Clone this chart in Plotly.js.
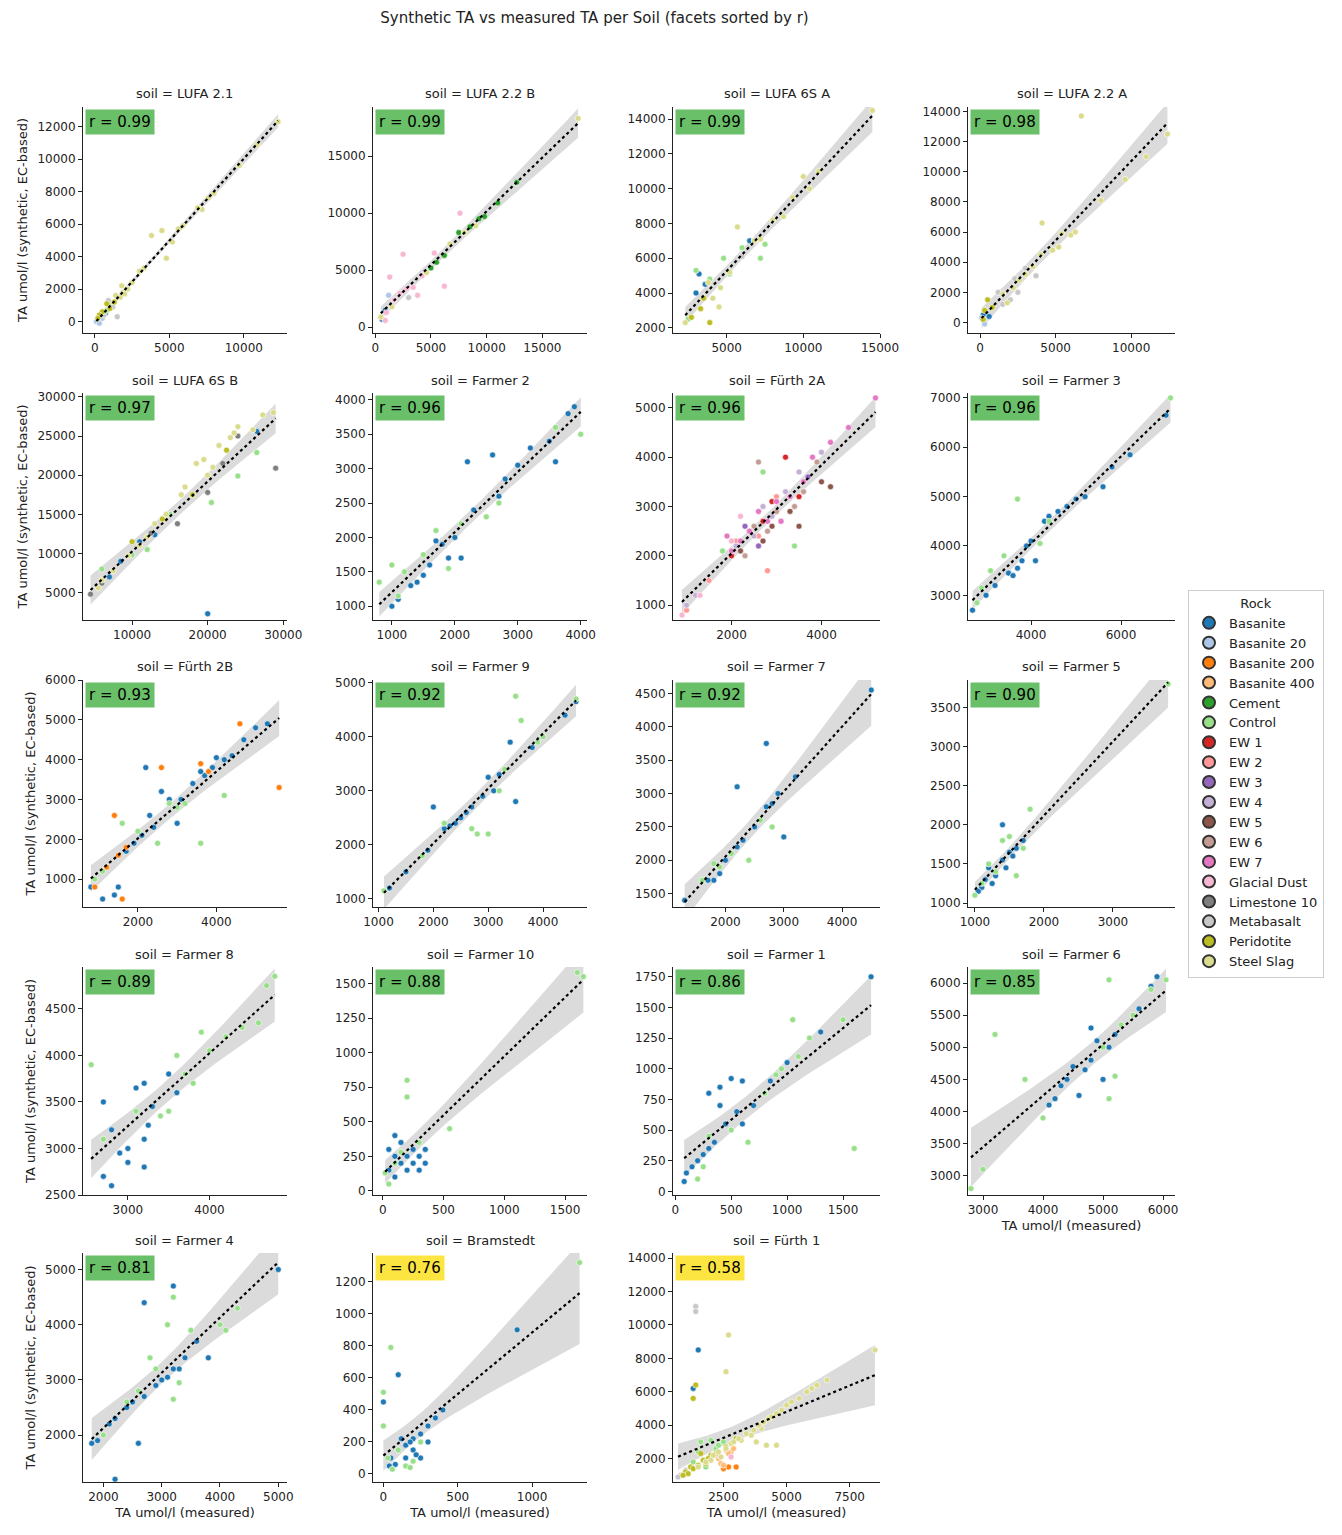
<!DOCTYPE html>
<html>
<head>
<meta charset="utf-8">
<script src="https://cdn.plot.ly/plotly-3.0.1.min.js"></script>
<style>body{margin:0;background:#fff}</style>
</head>
<body>
<div id="chart" style="width:1342px;height:1535px"></div>
<script>
// Rock categories and tab20 colours
const rocks = ['Basanite','Basanite 20','Basanite 200','Basanite 400','Cement','Control','EW 1','EW 2','EW 3','EW 4','EW 5','EW 6','EW 7','Glacial Dust','Limestone 10','Metabasalt','Peridotite','Steel Slag'];
const rockColors = ['#1f77b4','#aec7e8','#ff7f0e','#ffbb78','#2ca02c','#98df8a','#d62728','#ff9896','#9467bd','#c5b0d5','#8c564b','#c49c94','#e377c2','#f7b6d2','#7f7f7f','#c7c7c7','#bcbd22','#dbdb8d'];

const soils = ['LUFA 2.1','LUFA 2.2 B','LUFA 6S A','LUFA 2.2 A','LUFA 6S B','Farmer 2','Fürth 2A','Farmer 3','Fürth 2B','Farmer 9','Farmer 7','Farmer 5','Farmer 8','Farmer 10','Farmer 1','Farmer 6','Farmer 4','Bramstedt','Fürth 1'];
const rValues = [0.99,0.99,0.99,0.98,0.97,0.96,0.96,0.96,0.93,0.92,0.92,0.90,0.89,0.88,0.86,0.85,0.81,0.76,0.58];

// axis ranges and tick steps per facet: [xmin,xmax,xdtick,ymin,ymax,ydtick]
const axisSpecs = [
  [-800,12900,5000,-700,13200,2000],[-200,19000,5000,-500,19300,5000],[1500,15000,5000,1700,14700,2000],[-800,12900,5000,-700,14300,2000],
  [3500,30500,10000,1500,30500,5000],[700,4100,1000,800,4100,500],[700,5300,2000,700,5300,1000],[2600,7200,2000,2500,7100,1000],
  [600,5800,2000,300,6000,1000],[900,4800,1000,850,5050,1000],[1100,4650,1000,1300,4700,500],[900,3900,1000,950,3850,500],
  [2450,4950,1000,2500,4950,500],[-80,1680,500,-30,1620,250],[-20,1830,500,-30,1830,250],[2750,6200,1000,2700,6250,500],
  [1650,5150,1000,1150,5300,1000],[-70,1370,500,-50,1380,200],[500,8700,2500,600,14300,2000]
];

// points: [rockIndex, measured, synthetic]
const ptsLufa21 = [[17,12300,12300],[17,10900,10900],[17,9700,9600],[17,8000,7900],[17,7600,7600],[17,7200,6900],[17,6900,7000],[17,5900,5900],[17,5600,5700],[17,5200,4900],[17,4800,3900],[17,4500,5600],[17,3800,5300],[17,3300,3300],[17,3000,3100],[17,2500,2400],[17,2200,2000],[17,1900,1800],[17,1700,1500],[17,1400,1600],[16,1000,800],[16,800,1100],[16,500,600],[16,300,400],[16,200,200],[15,1200,900],[15,600,400],[15,1500,300],[15,900,1300],[1,100,0],[1,300,-100],[1,500,200],[0,200,100],[0,400,300],[0,700,500],[5,800,700],[5,1100,1000],[16,1300,1200],[17,1800,2200],[17,2000,1700]];
const ptsLufa22B = [[17,18200,18300],[4,12700,12700],[4,11000,10900],[4,9800,9700],[4,9300,9500],[4,8500,8800],[4,7500,8300],[4,6200,6300],[4,5500,5700],[4,5000,5200],[13,7600,10000],[13,6200,3600],[13,5300,6500],[13,3800,2800],[13,2500,6400],[13,1300,4400],[13,1700,2400],[13,2800,3400],[13,3400,3500],[13,4200,4500],[13,1000,1300],[13,900,600],[13,2200,3000],[17,8000,8300],[17,6700,7300],[17,4600,4800],[17,9000,8900],[0,600,700],[0,900,1500],[1,1200,2800],[15,3000,2600],[17,500,900],[17,1500,1800]];
const ptsLufa6SA = [[17,14500,14500],[17,11000,11000],[17,10400,10000],[17,10000,10700],[17,9300,9500],[17,8700,8400],[17,7200,7100],[17,6800,7000],[17,5700,7800],[17,5200,5200],[17,4600,4300],[17,4100,3700],[17,3800,4600],[0,3200,5100],[0,3600,4500],[0,6500,7000],[0,3000,4000],[5,3000,5300],[5,2500,2500],[5,6000,6600],[5,4800,6000],[5,5200,5100],[5,3900,4800],[5,7500,6800],[16,2700,2600],[16,3300,3100],[16,3900,2300],[16,3500,3700],[15,6800,7000],[15,6000,6100],[17,2300,2300],[17,8000,8200],[17,4500,3200],[5,7200,6000]];
const ptsLufa22A = [[17,12400,12500],[17,6700,13700],[17,11000,11000],[17,9600,9500],[17,8000,8100],[17,6300,6000],[17,6000,5800],[17,5400,5900],[17,5200,5000],[17,4800,4800],[17,4100,6600],[17,4000,4500],[17,3500,3700],[17,3000,3200],[17,2600,2800],[17,2200,2300],[15,2300,2900],[15,3700,3100],[15,1200,2000],[15,2000,1500],[15,2500,2000],[15,3000,3600],[15,1500,1200],[16,500,1500],[16,300,800],[16,200,200],[16,800,1000],[1,100,300],[1,300,-100],[0,200,500],[0,600,400],[17,1500,1900],[17,1800,1300]];
const ptsLufa6SB = [[17,28700,28000],[17,27300,27700],[17,26000,25800],[17,24000,26200],[17,23500,25400],[17,23000,24800],[17,21500,23800],[17,20700,21000],[17,20000,20000],[17,19500,22000],[17,18500,21500],[17,17000,18500],[17,16500,17500],[17,14500,15000],[17,13000,13800],[17,12000,12100],[17,11000,11000],[17,9500,9700],[17,7500,7800],[17,6000,6600],[17,5500,5600],[14,29000,20900],[14,24000,25000],[14,22000,21500],[14,20000,17800],[14,16000,13800],[14,12500,12600],[14,6000,6200],[14,4500,4800],[5,26500,22900],[5,24000,19900],[5,20500,16500],[5,15000,15000],[5,10000,9800],[5,6000,8000],[5,12000,10500],[0,26500,25600],[0,20000,2300],[0,13000,12400],[0,11000,11500],[0,8500,9000],[0,7000,7000],[16,10000,11500],[16,18000,17500],[16,22500,23200],[16,14000,14400]];
const ptsFarmer2 = [[0,3900,3900],[0,3800,3800],[0,3600,3100],[0,3500,3400],[0,3200,3300],[0,3000,3050],[0,2800,2850],[0,2600,3200],[0,2200,3100],[0,2300,2400],[0,2100,1700],[0,2000,2000],[0,1800,1900],[0,1700,1950],[0,1600,1600],[0,1500,1450],[0,1400,1350],[0,1300,1300],[0,1100,1100],[0,1000,1000],[0,2700,2600],[0,1900,1700],[5,4000,3500],[5,3600,3600],[5,2700,2500],[5,2500,2300],[5,1700,2100],[5,1500,1750],[5,1200,1500],[5,1000,1600],[5,800,1350],[5,1100,1150],[5,1900,1550],[5,2100,2200]];
const ptsFuerth2A = [[12,5200,5200],[12,4600,4600],[12,4200,4300],[12,3800,4000],[12,3600,3500],[12,3300,3200],[12,3000,3100],[12,2800,2700],[12,2600,2900],[12,2400,2500],[12,2200,2300],[12,2000,2100],[12,1900,2400],[12,3100,2700],[9,4000,4100],[9,3500,3700],[9,3200,3300],[9,2900,2800],[9,2500,2400],[9,2100,2200],[9,1200,1200],[9,1000,1000],[9,2700,3000],[11,3900,3900],[11,3600,3300],[11,2600,3900],[11,3400,3000],[11,2800,2500],[11,2300,2000],[11,2500,2600],[11,3000,2900],[10,4200,3400],[10,4000,3500],[10,3300,2900],[10,2700,2300],[10,2900,2600],[10,3500,2600],[10,2200,2100],[6,3200,4000],[6,3500,3200],[6,2900,3100],[6,2700,2700],[6,2400,2500],[6,2000,2000],[7,2800,1700],[7,2600,2400],[7,1000,900],[7,1500,1500],[7,3000,3200],[7,2100,2300],[8,2300,2600],[8,3100,2700],[8,2600,2200],[8,3700,3600],[13,900,800],[13,1300,1200],[13,2000,2300],[13,2200,2800],[5,3400,2200],[5,1800,2100],[5,2700,3700]];
const ptsFarmer3 = [[0,7000,6650],[0,6200,5850],[0,5800,5600],[0,5600,5200],[0,5200,5000],[0,5000,4950],[0,4800,4800],[0,4600,4700],[0,4400,4600],[0,4300,4500],[0,4100,3700],[0,4000,4100],[0,3900,4000],[0,3800,3700],[0,3700,3550],[0,3500,3450],[0,3600,3400],[0,3200,3200],[0,3000,3000],[0,2700,2700],[5,7100,7000],[5,3700,4950],[5,4400,4500],[5,3400,3800],[5,3100,3500],[5,2900,3150],[5,2800,2850],[5,4200,4050]];
const ptsFuerth2B = [[0,5300,4900],[0,5000,4800],[0,4700,4500],[0,4400,4100],[0,4200,4000],[0,4000,4050],[0,3900,3800],[0,3700,3600],[0,3600,3700],[0,3400,3400],[0,3100,3000],[0,3000,2400],[0,2800,3000],[0,2600,3200],[0,2400,2300],[0,2200,3800],[0,2300,2600],[0,2100,2100],[0,1900,1900],[0,1700,1700],[0,1500,800],[0,1400,600],[0,1200,1300],[0,1100,500],[0,800,800],[2,5600,3300],[2,4600,4900],[2,3800,3700],[2,3600,3900],[2,2600,3800],[2,1500,1600],[2,1400,2600],[2,1200,1300],[2,900,800],[2,1600,500],[2,1700,1800],[5,4200,3100],[5,3600,1900],[5,3200,2900],[5,3000,2800],[5,2800,2900],[5,2500,1900],[5,2000,2200],[5,1600,2400],[5,900,1000],[5,1100,1200]];
const ptsFarmer9 = [[0,4600,4650],[0,4400,4400],[0,3800,3800],[0,3500,2800],[0,3400,3900],[0,3200,3300],[0,3100,3000],[0,3000,3250],[0,2900,2900],[0,2700,2700],[0,2600,2600],[0,2500,2500],[0,2400,2400],[0,2300,2350],[0,2200,2300],[0,2000,2700],[0,1900,1900],[0,1500,1500],[0,1200,1200],[5,4600,4700],[5,3600,4300],[5,3500,4750],[5,3300,3400],[5,3200,3000],[5,3000,2200],[5,2800,2200],[5,2700,2300],[5,2200,2400],[5,1800,1800],[5,1100,1150],[5,3900,3900],[5,4000,4000]];
const ptsFarmer7 = [[0,4500,4550],[0,3200,3250],[0,3000,2350],[0,2900,3000],[0,2800,2850],[0,2700,3750],[0,2700,2800],[0,2500,2500],[0,2300,2300],[0,2200,3100],[0,2200,2200],[0,2000,2000],[0,1900,1800],[0,1800,1700],[0,1700,1700],[0,1300,1400],[0,2100,2100],[5,2800,2500],[5,2400,2000],[5,2100,2100],[5,1900,1900],[5,1800,1950],[5,1600,1700],[5,2600,2600]];
const ptsFarmer5 = [[0,1700,1800],[0,1600,1700],[0,1500,1650],[0,1400,2000],[0,1400,1550],[0,1300,1350],[0,1200,1450],[0,1100,1200],[0,1050,1150],[0,1150,1300],[0,1250,1250],[0,1550,1600],[0,1450,1450],[5,3800,3800],[5,1800,2200],[5,1600,1350],[5,1500,1850],[5,1400,1800],[5,1200,1500],[5,1100,1250],[5,1000,1100],[5,1300,1400],[5,1700,1700]];
const ptsFarmer8 = [[0,3600,3600],[0,3500,3800],[0,3300,3450],[0,3200,3700],[0,3200,2800],[0,3100,3650],[0,3000,2850],[0,2900,2950],[0,2800,3200],[0,2700,3500],[0,2800,2600],[0,3000,3000],[0,2700,2700],[0,3200,3100],[0,3250,3250],[5,4800,4850],[5,4700,4750],[5,4600,4350],[5,4400,4300],[5,4200,4200],[5,4000,4050],[5,3900,4250],[5,3800,3700],[5,3600,4000],[5,3500,3400],[5,3400,3350],[5,2550,3900],[5,2700,3100],[5,3100,3400],[5,3700,3800]];
const ptsFarmer10 = [[0,50,300],[0,100,250],[0,100,400],[0,150,200],[0,200,250],[0,200,150],[0,250,300],[0,300,250],[0,300,150],[0,350,300],[0,150,350],[0,250,200],[0,50,150],[0,100,100],[0,350,200],[5,1600,1580],[5,1650,1550],[5,200,800],[5,200,680],[5,550,450],[5,50,50],[5,100,200],[5,300,350],[5,150,280],[5,20,130]];
const ptsFarmer1 = [[0,1750,1750],[0,1300,1300],[0,1000,1050],[0,850,900],[0,600,900],[0,500,920],[0,400,850],[0,300,800],[0,550,650],[0,450,550],[0,350,400],[0,300,350],[0,250,300],[0,200,250],[0,150,200],[0,100,150],[0,80,80],[0,400,700],[0,600,550],[0,700,700],[5,1600,350],[5,1500,1400],[5,1050,1400],[5,950,1000],[5,900,950],[5,800,800],[5,650,400],[5,500,500],[5,300,450],[5,200,100],[5,250,200],[5,1100,1100],[5,1200,1250]];
const ptsFarmer6 = [[0,5900,6100],[0,5800,5950],[0,5600,5600],[0,5100,5000],[0,5000,4500],[0,4900,5100],[0,4800,5300],[0,4800,4800],[0,4700,4650],[0,4500,4700],[0,4400,4500],[0,4300,4400],[0,4200,4200],[0,4100,4100],[0,4600,4250],[0,5200,5200],[5,6050,6050],[5,5800,5900],[5,5100,4200],[5,5100,6050],[5,5200,4550],[5,5000,5000],[5,3200,5200],[5,3700,4500],[5,3000,3100],[5,2800,2800],[5,4000,3900],[5,5300,5350],[5,5500,5500]];
const ptsFarmer4 = [[0,5000,5000],[0,3800,3400],[0,3600,3700],[0,3300,3200],[0,3200,4700],[0,3200,3200],[0,3100,3050],[0,3000,3000],[0,2900,2900],[0,2700,2700],[0,2600,1850],[0,2500,2600],[0,2400,2500],[0,2200,1200],[0,2200,2300],[0,2100,2200],[0,1900,1900],[0,1800,1850],[0,2700,4400],[0,3400,3400],[5,4100,3900],[5,4000,4000],[5,3500,3900],[5,3300,2950],[5,3200,4500],[5,3200,2650],[5,3100,4000],[5,2900,3200],[5,2800,3400],[5,2600,2800],[5,2400,2600],[5,2000,2000],[5,4300,4300]];
const ptsBramstedt = [[0,900,900],[0,100,620],[0,350,350],[0,300,300],[0,250,250],[0,200,220],[0,150,180],[0,100,150],[0,50,100],[0,0,450],[0,150,100],[0,200,150],[0,250,100],[0,300,200],[0,120,220],[0,80,60],[0,220,120],[0,180,200],[0,40,50],[0,400,400],[5,1320,1320],[5,50,790],[5,0,510],[5,0,300],[5,30,100],[5,100,150],[5,150,50],[5,200,80],[5,250,200],[5,60,30],[5,180,40]];
const ptsFuerth1 = [[17,8500,8500],[17,6600,6700],[17,6200,6400],[17,5800,6000],[17,5500,5600],[17,5000,5200],[17,4600,4700],[17,4300,4400],[17,4000,3800],[17,3600,3400],[17,3200,3100],[17,2800,2900],[17,2700,9400],[17,2600,7200],[17,4200,2800],[17,4600,2800],[17,3800,3000],[17,2400,2100],[17,2000,1900],[15,1400,11100],[15,1400,10800],[15,800,1000],[15,1000,1300],[0,1500,8500],[0,1300,6200],[16,1400,6400],[16,1300,5600],[16,2000,2200],[16,1600,2300],[16,1200,1500],[16,1000,1200],[16,2600,2700],[16,3000,3200],[16,1800,1700],[5,1800,1500],[5,1500,2400],[5,2200,2600],[5,2500,3000],[5,1600,3000],[5,2000,3100],[3,2300,2000],[3,2400,1700],[3,2600,2500],[3,2800,2400],[3,2500,1600],[2,2700,1500],[2,3000,1500],[2,2500,1400],[13,2200,2200],[13,2800,2100],
  [17,1500,1500],[17,1800,1800],[17,2100,2200],[17,2300,2400],[17,2600,2600],[17,2900,3000],[17,3100,3200],[17,3400,3500],[17,3700,3700],[17,3900,4000],[17,4100,4200],[17,4400,4500],[17,4800,4900],[17,5200,5400],[17,6000,6200],[16,1100,1100],[16,1300,1400],[16,1500,1600],[16,1700,1900],[16,2200,2300],[16,1900,2000],[3,2000,1900],[3,2700,2300],[3,2900,2600],[5,1300,1800],[5,2300,2800],[15,700,900],[16,900,1000]];

const facetPoints = [ptsLufa21,ptsLufa22B,ptsLufa6SA,ptsLufa22A,ptsLufa6SB,ptsFarmer2,ptsFuerth2A,ptsFarmer3,ptsFuerth2B,ptsFarmer9,ptsFarmer7,ptsFarmer5,ptsFarmer8,ptsFarmer10,ptsFarmer1,ptsFarmer6,ptsFarmer4,ptsBramstedt,ptsFuerth1];

// pixel grid for the facets
const W = 1342, H = 1535;
const colPx = [[83,287],[373,587],[673,880],[968,1175]];
const rowPx = [[107,333],[393,620],[680,907],[967,1195],[1253,1482]];

const traces = [];
const layout = {
  width: W, height: H,
  paper_bgcolor: '#fff', plot_bgcolor: '#fff',
  margin: {l: 0, r: 0, t: 0, b: 0},
  font: {family: 'DejaVu Sans, sans-serif', size: 12, color: '#222'},
  title: {text: 'Synthetic TA vs measured TA per Soil (facets sorted by r)', x: 0.443, xanchor: 'center', y: 1 - 18 / H, yanchor: 'middle', font: {size: 15, color: '#222'}},
  showlegend: true,
  legend: {
    x: 1188 / W, y: 1 - 590 / H, xanchor: 'left', yanchor: 'top',
    bordercolor: '#ccc', borderwidth: 1, bgcolor: '#fff',
    font: {size: 13}, tracegroupgap: 0, itemsizing: 'constant',
    title: {text: 'Rock', side: 'top center', font: {size: 13}}
  },
  annotations: [],
  shapes: []
};

function regression(xs, ys) {
  const n = xs.length;
  const mx = xs.reduce((a, b) => a + b, 0) / n;
  const my = ys.reduce((a, b) => a + b, 0) / n;
  let sxx = 0, sxy = 0;
  for (let i = 0; i < n; i++) { sxx += (xs[i] - mx) ** 2; sxy += (xs[i] - mx) * (ys[i] - my); }
  const slope = sxy / sxx, icpt = my - slope * mx;
  let sse = 0;
  for (let i = 0; i < n; i++) sse += (ys[i] - icpt - slope * xs[i]) ** 2;
  const s = Math.sqrt(sse / (n - 2));
  return {slope, icpt, s, mx, sxx, n};
}

facetPoints.forEach((pts, i) => {
  const col = i % 4, row = Math.floor(i / 4);
  const ax = i === 0 ? '' : String(i + 1);
  const xa = 'xaxis' + ax, ya = 'yaxis' + ax;
  const spec = axisSpecs[i];
  const dom = {x: [colPx[col][0] / W, colPx[col][1] / W], y: [1 - rowPx[row][1] / H, 1 - rowPx[row][0] / H]};
  const showXTitle = row === 4 || (row === 3 && col === 3);
  layout[xa] = {
    domain: dom.x, anchor: 'y' + ax, range: [spec[0], spec[1]], dtick: spec[2], tick0: 0, tickformat: 'd',
    showgrid: false, zeroline: false, showline: true, linecolor: '#222', linewidth: 1,
    ticks: 'outside', ticklen: 4, tickcolor: '#222', tickfont: {size: 12},
    title: showXTitle ? {text: 'TA umol/l (measured)', font: {size: 13}, standoff: 4} : {text: ''}
  };
  layout[ya] = {
    domain: dom.y, anchor: 'x' + ax, range: [spec[3], spec[4]], dtick: spec[5], tick0: 0, tickformat: 'd',
    showgrid: false, zeroline: false, showline: true, linecolor: '#222', linewidth: 1,
    ticks: 'outside', ticklen: 4, tickcolor: '#222', tickfont: {size: 12},
    title: col === 0 ? {text: 'TA umol/l (synthetic, EC-based)', font: {size: 13}, standoff: 6} : {text: ''}
  };

  const xs = pts.map(p => p[1]), ys = pts.map(p => p[2]);
  const reg = regression(xs, ys);
  const xmin = Math.min(...xs), xmax = Math.max(...xs);
  const gx = [], lo = [], hi = [];
  for (let k = 0; k <= 40; k++) {
    const x = xmin + (xmax - xmin) * k / 40;
    const yhat = reg.icpt + reg.slope * x;
    const se = reg.s * Math.sqrt(1 / reg.n + (x - reg.mx) ** 2 / reg.sxx);
    gx.push(x); lo.push(yhat - 1.97 * se); hi.push(yhat + 1.97 * se);
  }
  traces.push({
    x: gx.concat(gx.slice().reverse()), y: hi.concat(lo.slice().reverse()),
    xaxis: 'x' + ax, yaxis: 'y' + ax, type: 'scatter', mode: 'lines', fill: 'toself',
    fillcolor: 'rgba(190,190,190,0.55)', line: {width: 0}, hoverinfo: 'skip', showlegend: false
  });

  rocks.forEach((rock, ri) => {
    const sub = pts.filter(p => p[0] === ri);
    if (!sub.length) return;
    traces.push({
      x: sub.map(p => p[1]), y: sub.map(p => p[2]),
      xaxis: 'x' + ax, yaxis: 'y' + ax, type: 'scatter', mode: 'markers',
      marker: {size: 6, color: rockColors[ri], line: {color: '#fff', width: 0.6}},
      name: rock, legendgroup: rock, showlegend: false
    });
  });

  traces.push({
    x: [xmin, xmax], y: [reg.icpt + reg.slope * xmin, reg.icpt + reg.slope * xmax],
    xaxis: 'x' + ax, yaxis: 'y' + ax, type: 'scatter', mode: 'lines',
    line: {color: '#000', width: 2.2, dash: 'dot'}, hoverinfo: 'skip', showlegend: false
  });

  layout.annotations.push({
    text: 'soil = ' + soils[i], xref: 'paper', yref: 'paper',
    x: (dom.x[0] + dom.x[1]) / 2, y: dom.y[1] + 13 / H, xanchor: 'center', yanchor: 'middle',
    showarrow: false, font: {size: 13}
  });
  layout.annotations.push({
    text: 'r = ' + rValues[i].toFixed(2), xref: 'x' + ax + ' domain', yref: 'y' + ax + ' domain',
    x: 0.01, y: 0.99, xanchor: 'left', yanchor: 'top', showarrow: false,
    bgcolor: rValues[i] >= 0.8 ? '#6abf69' : '#fde541', borderpad: 3,
    font: {size: 15, color: '#000'}
  });
});

// legend entries
rocks.forEach((rock, ri) => {
  traces.push({
    x: [null], y: [null], type: 'scatter', mode: 'markers', name: rock, legendgroup: rock,
    marker: {size: 8, color: rockColors[ri], line: {color: '#333', width: 1}}, showlegend: true
  });
});

Plotly.newPlot('chart', traces, layout, {displayModeBar: false, staticPlot: true});
</script>
</body>
</html>
